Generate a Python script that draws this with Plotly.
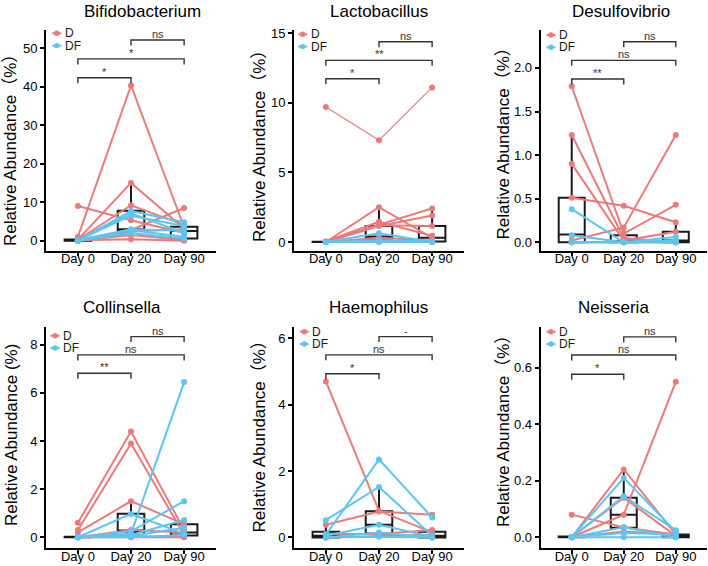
"""Paired abundance trajectories (Day 0 / 20 / 90) for six genera."""

import plotly.graph_objects as go
from plotly.subplots import make_subplots

W, H = 708, 566
RED = "#EA7B7D"
BLUE = "#5CC5F0"
INK = "#1A1A1A"
FONT = "Liberation Sans, Arial, Noto Sans CJK SC, sans-serif"

DAYS = ["Day 0", "Day 20", "Day 90"]
GENERA = ["Bifidobacterium", "Lactobacillus", "Desulfovibrio",
          "Collinsella", "Haemophilus", "Neisseria"]
Y_TITLES = ["Relative Abundance（%）", "Relative Abundance（%）", "Relative Abundance（%）",
            "Relative Abundance (%)", "Relative Abundance（%）", "Relative Abundance（%）"]

# per-subject relative abundance (%), values at Day 0 / Day 20 / Day 90
bifido_d = [[1.0, 40.3, 3.5], [0.3, 15.0, 3.2], [9.0, 5.3, 2.0], [0.2, 9.2, 4.1],
            [0.1, 2.8, 8.5], [0.0, 1.5, 0.2], [0.1, 0.4, 0.0], [0.0, 2.4, 3.0]]
bifido_df = [[0.0, 7.7, 4.8], [0.1, 6.5, 3.8], [0.0, 7.1, 2.0], [0.0, 2.7, 1.0],
             [0.0, 2.0, 0.6], [0.2, 3.0, 2.6]]

lacto_d = [[9.7, 7.3, 11.1], [0.0, 2.5, 0.3], [0.05, 1.45, 0.45], [0.0, 1.25, 2.4],
           [0.0, 1.15, 1.9], [0.0, 1.2, 1.15], [0.0, 0.3, 0.1], [0.0, 0.0, 0.0]]
lacto_df = [[0.0, 0.62, 0.0], [0.0, 0.1, 0.05], [0.0, 0.0, 0.0]]

desulfo_d = [[1.79, 0.10, 0.43], [1.23, 0.05, 0.0], [0.90, 0.02, 0.12],
             [0.51, 0.42, 0.23], [0.02, 0.17, 1.23], [0.0, 0.0, 0.0]]
desulfo_df = [[0.38, 0.0, 0.0], [0.08, 0.0, 0.06], [0.0, 0.0, 0.0], [0.0, 0.0, 0.02]]

collin_d = [[0.6, 4.4, 0.3], [0.3, 3.9, 0.1], [0.2, 1.5, 0.55], [0.0, 0.3, 0.2],
            [0.0, 0.05, 0.0], [0.0, 0.0, 0.0]]
collin_df = [[0.0, 0.15, 6.45], [0.0, 0.97, 0.15], [0.0, 0.25, 1.5], [0.0, 0.1, 0.72],
             [0.0, 0.05, 0.4], [0.0, 0.0, 0.1]]

haemo_d = [[4.7, 0.8, 0.15], [0.38, 0.78, 0.68], [0.1, 0.1, 0.22], [0.0, 0.05, 0.08]]
haemo_df = [[0.52, 1.52, 0.05], [0.08, 2.35, 0.6], [0.05, 0.38, 0.02],
            [0.0, 0.15, 0.0], [0.0, 0.02, 0.0]]

neis_d = [[0.08, 0.035, 0.01], [0.0, 0.24, 0.01], [0.0, 0.08, 0.55],
          [0.0, 0.14, 0.005], [0.0, 0.02, 0.01]]
neis_df = [[0.0, 0.21, 0.02], [0.0, 0.145, 0.025], [0.0, 0.035, 0.0],
           [0.0, 0.015, 0.01], [0.0, 0.0, 0.0]]

# box summaries per day: lower fence, q1, median, q3, upper fence
bifido_box = dict(lo=[0, 0, 0], q1=[0, 2.6, 0.6], med=[0.1, 3.0, 2.5], q3=[0.3, 7.8, 3.6], hi=[0.3, 15.0, 5.0])
lacto_box = dict(lo=[0, 0, 0], q1=[0, 0.26, 0.03], med=[0, 0.4, 0.3], q3=[0.02, 1.15, 1.15], hi=[0.05, 2.5, 2.4])
desulfo_box = dict(lo=[0, 0, 0], q1=[0, 0, 0], med=[0.09, 0.01, 0.02], q3=[0.51, 0.08, 0.12], hi=[1.23, 0.17, 0.23])
collin_box = dict(lo=[0, 0, 0], q1=[0, 0.22, 0.07], med=[0, 0.28, 0.2], q3=[0.02, 0.98, 0.54], hi=[0.05, 1.5, 0.72])
haemo_box = dict(lo=[0, 0, 0], q1=[0, 0.12, 0], med=[0.05, 0.38, 0.05], q3=[0.17, 0.79, 0.17], hi=[0.38, 1.52, 0.22])
neis_box = dict(lo=[0, 0, 0], q1=[0, 0.034, 0], med=[0, 0.08, 0.005], q3=[0.003, 0.14, 0.01], hi=[0.005, 0.24, 0.025])

# significance brackets: Day0-Day20, Day0-Day90, Day20-Day90
SIG_PAIRS = [(0, 1), (0, 2), (1, 2)]
bifido_sig = (["*", "*", "ns"], [42.3, 47.2, 52.1])
lacto_sig = (["*", "**", "ns"], [11.72, 13.04, 14.38])
desulfo_sig = (["**", "ns", "ns"], [1.873, 2.087, 2.30])
collin_sig = (["**", "ns", "ns"], [6.82, 7.58, 8.34])
haemo_sig = (["*", "ns", "-"], [4.93, 5.50, 6.05])
neis_sig = (["*", "ns", "ns"], [0.577, 0.645, 0.709])

D_SERIES = [bifido_d, lacto_d, desulfo_d, collin_d, haemo_d, neis_d]
DF_SERIES = [bifido_df, lacto_df, desulfo_df, collin_df, haemo_df, neis_df]
BOXES = [bifido_box, lacto_box, desulfo_box, collin_box, haemo_box, neis_box]
SIGS = [bifido_sig, lacto_sig, desulfo_sig, collin_sig, haemo_sig, neis_sig]

# axis setup (range, tick step, format)
Y_AXES = [
    dict(range=[-2.54, 54.7], dtick=10, tickformat="d"),
    dict(range=[-0.61, 15.22], dtick=5, tickformat="d"),
    dict(range=[-0.094, 2.435], dtick=0.5, tickformat=".1f"),
    dict(range=[-0.445, 8.74], dtick=2, tickformat="d"),
    dict(range=[-0.32, 6.34], dtick=2, tickformat="d"),
    dict(range=[-0.038, 0.744], dtick=0.2, tickformat=".1f"),
]

# pixel layout of each panel
COL_X = [(46, 216), (294, 464), (540.5, 707)]
ROW_Y = [(30, 250.5), (327, 548)]
TITLE_POS = [(142, 11.5), (379, 11.5), (621, 11.5), (122, 307), (378.5, 307), (613, 307)]
YTITLE_POS = [(10, 146), (259, 142), (503.5, 139), (11, 435), (259, 432.5), (503, 427)]
LEGEND_POS = [(56.7, 33.3), (302.7, 34.3), (551, 35), (55, 335.7), (304.3, 331.7), (551, 331.7)]
THIN_LINES = {1: [0]}  # Lactobacillus outlier subject drawn with a thin line


def px(x):
    return x / W


def py(y):
    return 1 - y / H


fig = make_subplots(rows=2, cols=3)

for i, genus in enumerate(GENERA):
    row, col = i // 3, i % 3
    n = i + 1
    suffix = "" if n == 1 else str(n)
    xref, yref = "x" + suffix, "y" + suffix

    # boxes sit behind the subject lines
    box = BOXES[i]
    fig.add_trace(go.Box(
        x=[0, 1, 2], q1=box["q1"], median=box["med"], q3=box["q3"],
        lowerfence=box["lo"], upperfence=box["hi"],
        width=0.5, whiskerwidth=0, boxpoints=False,
        line=dict(color=INK, width=2), fillcolor="rgba(255,255,255,0)",
        showlegend=False, hoverinfo="skip"
    ), row=row + 1, col=col + 1)

    for series, color in ((D_SERIES[i], RED), (DF_SERIES[i], BLUE)):
        for k, vals in enumerate(series):
            thin = color == RED and k in THIN_LINES.get(i, [])
            fig.add_trace(go.Scatter(
                x=[0, 1, 2], y=vals, mode="lines+markers",
                line=dict(color=color, width=1.2 if thin else 2),
                marker=dict(color=color, size=6),
                showlegend=False, hoverinfo="skip"
            ), row=row + 1, col=col + 1)

    x0, x1 = COL_X[col]
    y0, y1 = ROW_Y[row]
    yax = Y_AXES[i]
    fig.update_xaxes(
        domain=[px(x0), px(x1)], range=[-0.6, 2.6],
        tickvals=[0, 1, 2], ticktext=DAYS, ticklabelstandoff=-9,
        row=row + 1, col=col + 1
    )
    fig.update_yaxes(
        domain=[py(y1), py(y0)], range=yax["range"],
        tick0=0, dtick=yax["dtick"], tickformat=yax["tickformat"],
        row=row + 1, col=col + 1
    )

    # significance brackets
    labels, heights = SIGS[i]
    tick = 5.5 * (yax["range"][1] - yax["range"][0]) / (y1 - y0)
    for (a, b), lab, h in zip(SIG_PAIRS, labels, heights):
        fig.add_shape(type="path", xref=xref, yref=yref,
                      path=f"M {a},{h - tick} L {a},{h} L {b},{h} L {b},{h - tick}",
                      line=dict(color="#333333", width=1.4))
        fig.add_annotation(x=(a + b) / 2, y=h, xref=xref, yref=yref,
                           text=lab, showarrow=False, yanchor="bottom", yshift=-2,
                           font=dict(size=11, color="#333333", family=FONT))

    # panel title and y-axis title
    tx, ty = TITLE_POS[i]
    fig.add_annotation(x=px(tx), y=py(ty), xref="paper", yref="paper",
                       text=genus, showarrow=False, xanchor="center", yanchor="middle",
                       font=dict(size=17, color="black", family=FONT))
    yx, yy = YTITLE_POS[i]
    fig.add_annotation(x=px(yx), y=py(yy), xref="paper", yref="paper",
                       text=Y_TITLES[i], textangle=-90, showarrow=False,
                       xanchor="center", yanchor="middle",
                       font=dict(size=17, color="black", family=FONT))

    # in-panel legend
    gx, gy = LEGEND_POS[i]
    for j, (name, color) in enumerate((("D", RED), ("DF", BLUE))):
        cy = gy + 12.3 * j
        fig.add_shape(type="line", xref="paper", yref="paper",
                      x0=px(gx - 4.5), x1=px(gx + 4.5), y0=py(cy), y1=py(cy),
                      line=dict(color=color, width=2))
        fig.add_shape(type="circle", xref="paper", yref="paper",
                      x0=px(gx - 2.7), x1=px(gx + 2.7), y0=py(cy + 2.7), y1=py(cy - 2.7),
                      fillcolor=color, line=dict(color=color, width=0))
        fig.add_annotation(x=px(gx + 6), y=py(cy), xref="paper", yref="paper",
                           text=name, showarrow=False, xanchor="left", yanchor="middle",
                           font=dict(size=12, color=INK, family=FONT))

axis_style = dict(
    showline=True, linecolor="black", linewidth=1.8, mirror=False,
    showgrid=False, zeroline=False, automargin=False,
    ticks="outside", ticklen=4, tickwidth=1.5, tickcolor="black",
    tickfont=dict(size=13, color="black", family=FONT)
)
fig.update_xaxes(**axis_style)
fig.update_yaxes(**axis_style)

fig.update_layout(
    width=W, height=H,
    margin=dict(l=0, r=0, t=0, b=0),
    paper_bgcolor="white", plot_bgcolor="white",
    showlegend=False,
    font=dict(family=FONT, color=INK)
)

# page body has a default 8px margin; drop it so the figure fills the window
fig.write_html("out.html", config={"displayModeBar": False},
               post_script="document.body.style.margin='0';")
